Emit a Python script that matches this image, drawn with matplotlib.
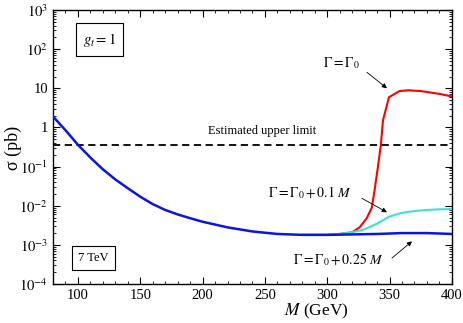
import numpy as np
import matplotlib.pyplot as plt
from matplotlib.ticker import FixedLocator, FuncFormatter, LogLocator, MultipleLocator

plt.rcParams['font.family'] = ['Liberation Serif', 'DejaVu Serif']
plt.rcParams['mathtext.fontset'] = 'stix'

# blue: Gamma = Gamma0 + 0.25 M
mass_blue = [80, 90, 100, 110, 120, 130, 140, 150, 160, 170, 180, 190, 200,
             220, 240, 260, 280, 300, 320, 340, 360, 380, 400]
sigma_blue = [1.9, 0.85, 0.36, 0.17, 0.085, 0.047, 0.028, 0.017, 0.011, 0.0078,
              0.006, 0.0048, 0.0039, 0.0028, 0.0022, 0.0019, 0.0018, 0.0018,
              0.00185, 0.0019, 0.002, 0.002, 0.0019]

# cyan: Gamma = Gamma0 + 0.1 M
mass_cyan = [280, 300, 310, 320, 330, 340, 350, 360, 370, 380, 390, 400]
sigma_cyan = [0.0018, 0.0018, 0.0019, 0.0021, 0.0025, 0.0035, 0.0053, 0.0066,
              0.0073, 0.0078, 0.0081, 0.0082]

# red: Gamma = Gamma0
mass_red = [280, 300, 310, 320, 326, 331.7, 335.8, 338, 340.6, 343, 344.7,
            349.5, 358, 365, 375, 390, 400]
sigma_red = [0.0018, 0.0018, 0.0019, 0.0021, 0.0028, 0.0048, 0.009, 0.025,
             0.095, 0.35, 1.5, 5.9, 8.5, 8.9, 8.5, 7.2, 6.2]

upper_limit = 0.35

fig = plt.figure(figsize=(4.63, 3.23), dpi=100)
ax = fig.add_axes([0.1145, 0.1207, 0.8615, 0.8483])

ax.plot(mass_blue, sigma_blue, color='#0a14e6', lw=1.8, zorder=4)
ax.plot(mass_cyan, sigma_cyan, color='#40e0d0', lw=1.5, zorder=3)
ax.plot(mass_red, sigma_red, color='#ff0000', lw=1.5, zorder=2)
ax.axhline(upper_limit, color='black', lw=1.3, ls=(0, (4, 2.5)))

ax.set_yscale('log')
ax.set_xlim(80, 400)
ax.set_ylim(1e-4, 1e3)

ax.xaxis.set_major_locator(MultipleLocator(50))
ax.xaxis.set_minor_locator(MultipleLocator(10))
ax.yaxis.set_major_locator(FixedLocator([10.0 ** k for k in range(-4, 4)]))
ax.yaxis.set_minor_locator(LogLocator(base=10, subs=np.arange(2, 10), numticks=20))


def ylabel_fmt(v, pos):
    k = int(round(np.log10(v)))
    if k == 0:
        return '1'
    if k == 1:
        return '10'
    return r'$10^{%d}$' % k


ax.yaxis.set_major_formatter(FuncFormatter(ylabel_fmt))
ax.tick_params(which='both', direction='in', top=True, right=True, labelsize=10.5)
ax.tick_params(which='major', length=5, width=0.8)
ax.tick_params(which='minor', length=2.5, width=0.6)
for s in ax.spines.values():
    s.set_linewidth(1.0)

ax.set_xlabel(r'$M$ (GeV)', fontsize=12.5)
ax.xaxis.set_label_coords(0.66, -0.065)
ax.set_ylabel(r'σ (pb)', fontsize=13)
ax.yaxis.set_label_coords(-0.078, 0.496)

box = dict(boxstyle='square,pad=0.5', fc='white', ec='black', lw=0.8)
ax.text(0.1165, 0.892, r'$g_t = 1$', transform=ax.transAxes, fontsize=10.5, ha='center', va='center', bbox=box)
ax.text(0.1015, 0.095, '7 TeV', transform=ax.transAxes, fontsize=9, ha='center', va='center', bbox=box)
ax.text(247.6, 0.80, 'Estimated upper limit', fontsize=9, ha='center', va='center')

arrow = dict(arrowstyle='-|>', color='black', lw=0.6, mutation_scale=7, shrinkA=0, shrinkB=0)
ax.text(326, 44, r'$\Gamma = \Gamma_0$', fontsize=10, ha='right', va='center')
ax.annotate('', xy=(347.9, 10), xytext=(331.8, 25.7), arrowprops=arrow)
ax.text(320, 0.021, r'$\Gamma = \Gamma_0 + 0.1\ M$', fontsize=10, ha='right', va='center')
ax.annotate('', xy=(347.9, 0.0068), xytext=(327.8, 0.0155), arrowprops=arrow)
ax.text(345.5, 0.00041, r'$\Gamma = \Gamma_0 + 0.25\ M$', fontsize=10, ha='right', va='center')
ax.annotate('', xy=(368, 0.00123), xytext=(351.9, 0.00046), arrowprops=arrow)

fig.savefig('out.png', dpi=100)
